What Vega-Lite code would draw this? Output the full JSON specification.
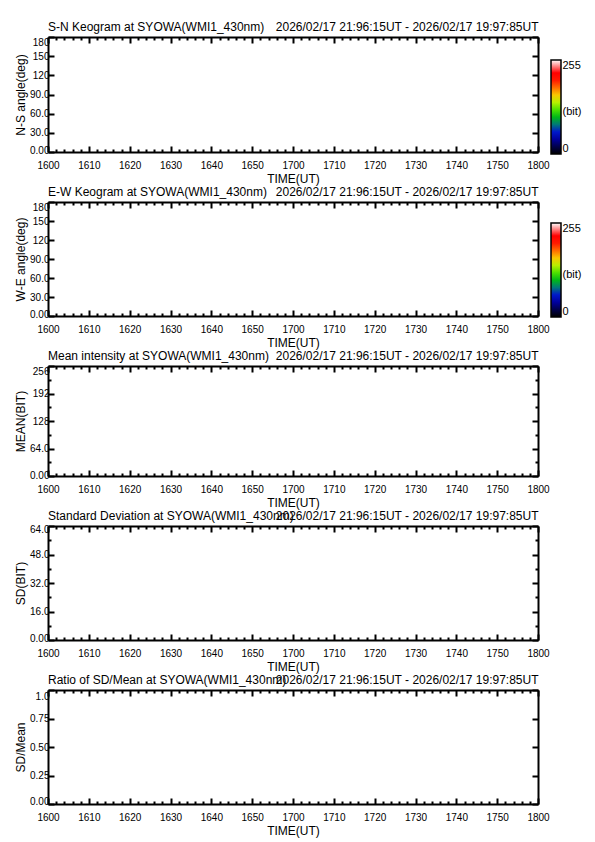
{
 "$schema": "https://vega.github.io/schema/vega-lite/v6.json",
 "background": "white",
 "padding": {"left": 14, "top": 20, "right": 5, "bottom": 5},
 "spacing": 50,
 "bounds": "flush",
 "resolve": {"scale": {"color": "independent"}, "legend": {"color": "independent"}},
 "config": {
  "font": "Liberation Sans",
  "view": {"stroke": null},
  "axis": {"domainColor": "black", "domainWidth": 2, "tickColor": "black", "tickWidth": 2, "labelColor": "black", "titleColor": "black", "labelFontSize": 10, "titleFontSize": 12, "titleFontWeight": "normal", "grid": false, "labelFont": "Liberation Sans", "titleFont": "Liberation Sans"},
  "title": {"fontSize": 12, "fontWeight": "normal", "color": "black", "font": "Liberation Sans", "anchor": "start", "frame": "group"}
 },
 "vconcat": [
  {
   "width": 490, "height": 115,
   "title": {"text": "S-N Keogram at SYOWA(WMI1_430nm)", "offset": -14},
   "data": {"values": []},
   "layer": [
    {"mark": {"type": "point", "opacity": 0},
     "encoding": {
      "x": {"field": "minute", "type": "quantitative", "scale": {"domain": [0, 120], "nice": false, "zero": false},
       "axis": {"orient": "bottom", "values": [0,2,4,6,8,10,12,14,16,18,20,22,24,26,28,30,32,34,36,38,40,42,44,46,48,50,52,54,56,58,60,62,64,66,68,70,72,74,76,78,80,82,84,86,88,90,92,94,96,98,100,102,104,106,108,110,112,114,116,118,120], "tickSize": {"condition": {"test": "datum.value % 10 === 0", "value": -6}, "value": -3}, "labelExpr": "datum.value % 10 === 0 ? '' + (1600 + floor(datum.value / 60) * 100 + datum.value % 60) : ''", "labelFlush": false, "labelOverlap": false, "labelPadding": 14, "title": "TIME(UT)", "titlePadding": 0}},
      "y": {"field": "ns_angle", "type": "quantitative", "scale": {"domain": [0, 180], "nice": false, "zero": false},
       "axis": {"orient": "left", "values": [0,30,60,90,120,150,180], "tickSize": -6, "labelExpr": "datum.value === 0 ? '0.00' : datum.value < 100 ? format(datum.value, '.1f') : format(datum.value, 'd')", "labelPadding": 5, "labelFlush": false, "labelOverlap": false, "labelOffset": {"condition": [{"test": "datum.value === 180", "value": 5}, {"test": "datum.value === 0", "value": -2}], "value": 0}, "title": "N-S angle(deg)", "titlePadding": 2}},
      "color": {"field": "bit", "type": "quantitative",
       "scale": {"domain": [0,30,55,80,105,130,150,170,195,220,255], "range": ["#000000","#000070","#0000e0","#007878","#00c800","#80f000","#f0f000","#ffa000","#ff2000","#ff0000","#ffffff"], "interpolate": "rgb"},
       "legend": {"type": "gradient", "orient": "none", "legendX": 503, "legendY": 23, "direction": "vertical", "gradientLength": 94, "gradientThickness": 10, "gradientStrokeColor": "black", "gradientStrokeWidth": 1.5, "title": null, "values": [0, 115, 255], "labelExpr": "datum.value === 0 ? '0' : datum.value === 255 ? '255' : '(bit)'", "labelFontSize": 11, "labelOffset": 1.5, "labelColor": "black", "labelOverlap": false}}
     }},
    {"mark": {"type": "point", "opacity": 0},
     "encoding": {
      "x": {"field": "minute", "type": "quantitative", "scale": {"domain": [0, 120], "nice": false, "zero": false},
       "axis": {"orient": "top", "values": [0,2,4,6,8,10,12,14,16,18,20,22,24,26,28,30,32,34,36,38,40,42,44,46,48,50,52,54,56,58,60,62,64,66,68,70,72,74,76,78,80,82,84,86,88,90,92,94,96,98,100,102,104,106,108,110,112,114,116,118,120], "tickSize": {"condition": {"test": "datum.value % 10 === 0", "value": -6}, "value": -3}, "labels": false, "title": "2026/02/17 21:96:15UT - 2026/02/17 19:97:85UT", "titleAnchor": "end", "titlePadding": 3}},
      "y": {"field": "ns_angle", "type": "quantitative", "scale": {"domain": [0, 180], "nice": false, "zero": false},
       "axis": {"orient": "right", "values": [0,30,60,90,120,150,180], "tickSize": -6, "labels": false, "title": null}}
     }}
   ],
   "resolve": {"axis": {"x": "independent", "y": "independent"}}
  },
  {
   "width": 490, "height": 114,
   "title": {"text": "E-W Keogram at SYOWA(WMI1_430nm)", "offset": -14},
   "data": {"values": []},
   "layer": [
    {"mark": {"type": "point", "opacity": 0},
     "encoding": {
      "x": {"field": "minute", "type": "quantitative", "scale": {"domain": [0, 120], "nice": false, "zero": false},
       "axis": {"orient": "bottom", "values": [0,2,4,6,8,10,12,14,16,18,20,22,24,26,28,30,32,34,36,38,40,42,44,46,48,50,52,54,56,58,60,62,64,66,68,70,72,74,76,78,80,82,84,86,88,90,92,94,96,98,100,102,104,106,108,110,112,114,116,118,120], "tickSize": {"condition": {"test": "datum.value % 10 === 0", "value": -6}, "value": -3}, "labelExpr": "datum.value % 10 === 0 ? '' + (1600 + floor(datum.value / 60) * 100 + datum.value % 60) : ''", "labelFlush": false, "labelOverlap": false, "labelPadding": 14, "title": "TIME(UT)", "titlePadding": 0}},
      "y": {"field": "we_angle", "type": "quantitative", "scale": {"domain": [0, 180], "nice": false, "zero": false},
       "axis": {"orient": "left", "values": [0,30,60,90,120,150,180], "tickSize": -6, "labelExpr": "datum.value === 0 ? '0.00' : datum.value < 100 ? format(datum.value, '.1f') : format(datum.value, 'd')", "labelPadding": 5, "labelFlush": false, "labelOverlap": false, "labelOffset": {"condition": [{"test": "datum.value === 180", "value": 5}, {"test": "datum.value === 0", "value": -2}], "value": 0}, "title": "W-E angle(deg)", "titlePadding": 2}},
      "color": {"field": "bit", "type": "quantitative",
       "scale": {"domain": [0,30,55,80,105,130,150,170,195,220,255], "range": ["#000000","#000070","#0000e0","#007878","#00c800","#80f000","#f0f000","#ffa000","#ff2000","#ff0000","#ffffff"], "interpolate": "rgb"},
       "legend": {"type": "gradient", "orient": "none", "legendX": 503, "legendY": 21, "direction": "vertical", "gradientLength": 94, "gradientThickness": 10, "gradientStrokeColor": "black", "gradientStrokeWidth": 1.5, "title": null, "values": [0, 115, 255], "labelExpr": "datum.value === 0 ? '0' : datum.value === 255 ? '255' : '(bit)'", "labelFontSize": 11, "labelOffset": 1.5, "labelColor": "black", "labelOverlap": false}}
     }},
    {"mark": {"type": "point", "opacity": 0},
     "encoding": {
      "x": {"field": "minute", "type": "quantitative", "scale": {"domain": [0, 120], "nice": false, "zero": false},
       "axis": {"orient": "top", "values": [0,2,4,6,8,10,12,14,16,18,20,22,24,26,28,30,32,34,36,38,40,42,44,46,48,50,52,54,56,58,60,62,64,66,68,70,72,74,76,78,80,82,84,86,88,90,92,94,96,98,100,102,104,106,108,110,112,114,116,118,120], "tickSize": {"condition": {"test": "datum.value % 10 === 0", "value": -6}, "value": -3}, "labels": false, "title": "2026/02/17 21:96:15UT - 2026/02/17 19:97:85UT", "titleAnchor": "end", "titlePadding": 3}},
      "y": {"field": "we_angle", "type": "quantitative", "scale": {"domain": [0, 180], "nice": false, "zero": false},
       "axis": {"orient": "right", "values": [0,30,60,90,120,150,180], "tickSize": -6, "labels": false, "title": null}}
     }}
   ],
   "resolve": {"axis": {"x": "independent", "y": "independent"}}
  },
  {
   "width": 490, "height": 110,
   "title": {"text": "Mean intensity at SYOWA(WMI1_430nm)", "offset": -14},
   "data": {"values": []},
   "layer": [
    {"mark": {"type": "point", "opacity": 0},
     "encoding": {
      "x": {"field": "minute", "type": "quantitative", "scale": {"domain": [0, 120], "nice": false, "zero": false},
       "axis": {"orient": "bottom", "values": [0,2,4,6,8,10,12,14,16,18,20,22,24,26,28,30,32,34,36,38,40,42,44,46,48,50,52,54,56,58,60,62,64,66,68,70,72,74,76,78,80,82,84,86,88,90,92,94,96,98,100,102,104,106,108,110,112,114,116,118,120], "tickSize": {"condition": {"test": "datum.value % 10 === 0", "value": -6}, "value": -3}, "labelExpr": "datum.value % 10 === 0 ? '' + (1600 + floor(datum.value / 60) * 100 + datum.value % 60) : ''", "labelFlush": false, "labelOverlap": false, "labelPadding": 14, "title": "TIME(UT)", "titlePadding": 0}},
      "y": {"field": "mean", "type": "quantitative", "scale": {"domain": [0, 256], "nice": false, "zero": false},
       "axis": {"orient": "left", "values": [0,32,64,96,128,160,192,224,256], "tickSize": {"condition": {"test": "datum.value % 64 === 0", "value": -6}, "value": -3}, "labelExpr": "datum.value % 64 !== 0 ? '' : datum.value === 0 ? '0.00' : datum.value < 100 ? format(datum.value, '.1f') : format(datum.value, 'd')", "labelPadding": 5, "labelFlush": false, "labelOverlap": false, "labelOffset": {"condition": [{"test": "datum.value === 256", "value": 5}, {"test": "datum.value === 0", "value": -1}], "value": 0}, "title": "MEAN(BIT)", "titlePadding": 2}}
     }},
    {"mark": {"type": "point", "opacity": 0},
     "encoding": {
      "x": {"field": "minute", "type": "quantitative", "scale": {"domain": [0, 120], "nice": false, "zero": false},
       "axis": {"orient": "top", "values": [0,2,4,6,8,10,12,14,16,18,20,22,24,26,28,30,32,34,36,38,40,42,44,46,48,50,52,54,56,58,60,62,64,66,68,70,72,74,76,78,80,82,84,86,88,90,92,94,96,98,100,102,104,106,108,110,112,114,116,118,120], "tickSize": {"condition": {"test": "datum.value % 10 === 0", "value": -6}, "value": -3}, "labels": false, "title": "2026/02/17 21:96:15UT - 2026/02/17 19:97:85UT", "titleAnchor": "end", "titlePadding": 3}},
      "y": {"field": "mean", "type": "quantitative", "scale": {"domain": [0, 256], "nice": false, "zero": false},
       "axis": {"orient": "right", "values": [0,32,64,96,128,160,192,224,256], "tickSize": {"condition": {"test": "datum.value % 64 === 0", "value": -6}, "value": -3}, "labels": false, "title": null}}
     }}
   ],
   "resolve": {"axis": {"x": "independent", "y": "independent"}}
  },
  {
   "width": 490, "height": 114,
   "title": {"text": "Standard Deviation at SYOWA(WMI1_430nm)", "offset": -14},
   "data": {"values": []},
   "layer": [
    {"mark": {"type": "point", "opacity": 0},
     "encoding": {
      "x": {"field": "minute", "type": "quantitative", "scale": {"domain": [0, 120], "nice": false, "zero": false},
       "axis": {"orient": "bottom", "values": [0,2,4,6,8,10,12,14,16,18,20,22,24,26,28,30,32,34,36,38,40,42,44,46,48,50,52,54,56,58,60,62,64,66,68,70,72,74,76,78,80,82,84,86,88,90,92,94,96,98,100,102,104,106,108,110,112,114,116,118,120], "tickSize": {"condition": {"test": "datum.value % 10 === 0", "value": -6}, "value": -3}, "labelExpr": "datum.value % 10 === 0 ? '' + (1600 + floor(datum.value / 60) * 100 + datum.value % 60) : ''", "labelFlush": false, "labelOverlap": false, "labelPadding": 14, "title": "TIME(UT)", "titlePadding": 0}},
      "y": {"field": "sd", "type": "quantitative", "scale": {"domain": [0, 64], "nice": false, "zero": false},
       "axis": {"orient": "left", "values": [0,8,16,24,32,40,48,56,64], "tickSize": {"condition": {"test": "datum.value % 16 === 0", "value": -6}, "value": -3}, "labelExpr": "datum.value % 16 !== 0 ? '' : datum.value === 0 ? '0.00' : format(datum.value, '.1f')", "labelPadding": 5, "labelFlush": false, "labelOverlap": false, "labelOffset": {"condition": [{"test": "datum.value === 64", "value": 3}, {"test": "datum.value === 0", "value": -2}], "value": 0}, "title": "SD(BIT)", "titlePadding": 2}}
     }},
    {"mark": {"type": "point", "opacity": 0},
     "encoding": {
      "x": {"field": "minute", "type": "quantitative", "scale": {"domain": [0, 120], "nice": false, "zero": false},
       "axis": {"orient": "top", "values": [0,2,4,6,8,10,12,14,16,18,20,22,24,26,28,30,32,34,36,38,40,42,44,46,48,50,52,54,56,58,60,62,64,66,68,70,72,74,76,78,80,82,84,86,88,90,92,94,96,98,100,102,104,106,108,110,112,114,116,118,120], "tickSize": {"condition": {"test": "datum.value % 10 === 0", "value": -6}, "value": -3}, "labels": false, "title": "2026/02/17 21:96:15UT - 2026/02/17 19:97:85UT", "titleAnchor": "end", "titlePadding": 3}},
      "y": {"field": "sd", "type": "quantitative", "scale": {"domain": [0, 64], "nice": false, "zero": false},
       "axis": {"orient": "right", "values": [0,8,16,24,32,40,48,56,64], "tickSize": {"condition": {"test": "datum.value % 16 === 0", "value": -6}, "value": -3}, "labels": false, "title": null}}
     }}
   ],
   "resolve": {"axis": {"x": "independent", "y": "independent"}}
  },
  {
   "width": 490, "height": 114,
   "title": {"text": "Ratio of SD/Mean at SYOWA(WMI1_430nm)", "offset": -14},
   "data": {"values": []},
   "layer": [
    {"mark": {"type": "point", "opacity": 0},
     "encoding": {
      "x": {"field": "minute", "type": "quantitative", "scale": {"domain": [0, 120], "nice": false, "zero": false},
       "axis": {"orient": "bottom", "values": [0,2,4,6,8,10,12,14,16,18,20,22,24,26,28,30,32,34,36,38,40,42,44,46,48,50,52,54,56,58,60,62,64,66,68,70,72,74,76,78,80,82,84,86,88,90,92,94,96,98,100,102,104,106,108,110,112,114,116,118,120], "tickSize": {"condition": {"test": "datum.value % 10 === 0", "value": -6}, "value": -3}, "labelExpr": "datum.value % 10 === 0 ? '' + (1600 + floor(datum.value / 60) * 100 + datum.value % 60) : ''", "labelFlush": false, "labelOverlap": false, "labelPadding": 14, "title": "TIME(UT)", "titlePadding": 0}},
      "y": {"field": "ratio", "type": "quantitative", "scale": {"domain": [0, 1], "nice": false, "zero": false},
       "axis": {"orient": "left", "values": [0,0.25,0.5,0.75,1], "tickSize": -6, "labelExpr": "datum.value === 1 ? '1.0' : format(datum.value, '.2f')", "labelPadding": 5, "labelFlush": false, "labelOverlap": false, "labelOffset": {"condition": [{"test": "datum.value === 1", "value": 6}, {"test": "datum.value === 0", "value": -3}], "value": 0}, "title": "SD/Mean", "titlePadding": 2}}
     }},
    {"mark": {"type": "point", "opacity": 0},
     "encoding": {
      "x": {"field": "minute", "type": "quantitative", "scale": {"domain": [0, 120], "nice": false, "zero": false},
       "axis": {"orient": "top", "values": [0,2,4,6,8,10,12,14,16,18,20,22,24,26,28,30,32,34,36,38,40,42,44,46,48,50,52,54,56,58,60,62,64,66,68,70,72,74,76,78,80,82,84,86,88,90,92,94,96,98,100,102,104,106,108,110,112,114,116,118,120], "tickSize": {"condition": {"test": "datum.value % 10 === 0", "value": -6}, "value": -3}, "labels": false, "title": "2026/02/17 21:96:15UT - 2026/02/17 19:97:85UT", "titleAnchor": "end", "titlePadding": 3}},
      "y": {"field": "ratio", "type": "quantitative", "scale": {"domain": [0, 1], "nice": false, "zero": false},
       "axis": {"orient": "right", "values": [0,0.25,0.5,0.75,1], "tickSize": -6, "labels": false, "title": null}}
     }}
   ],
   "resolve": {"axis": {"x": "independent", "y": "independent"}}
  }
 ]
}
